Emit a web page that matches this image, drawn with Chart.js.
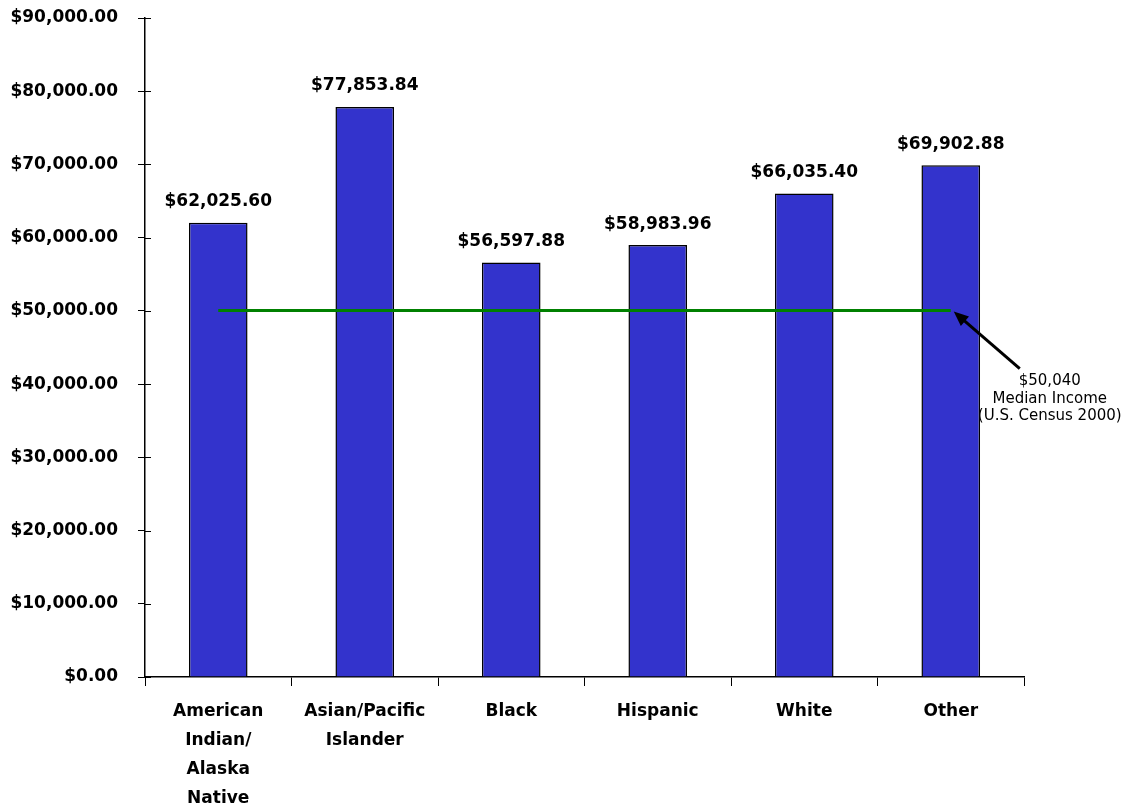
<!DOCTYPE html>
<html>
<head>
<meta charset="utf-8">
<script src="https://cdn.jsdelivr.net/npm/chart.js@4"></script>
<style>
  body { margin: 0; background: #fff; }
  #wrap { width: 1128px; height: 807px; }
</style>
</head>
<body>
<div id="wrap"><canvas id="chart" width="1128" height="807"></canvas></div>
<script>
// Average income by group, with census median reference line

const categories = [
  ['American', 'Indian/', 'Alaska', 'Native'],
  ['Asian/Pacific', 'Islander'],
  'Black',
  'Hispanic',
  'White',
  'Other'
];
const incomes = [62025.60, 77853.84, 56597.88, 58983.96, 66035.40, 69902.88];
const medianIncome = 50040;
const medianLine = [50040, 50040, 50040, 50040, 50040, 50040];
const noteLines = ['$50,040', 'Median Income', '(U.S. Census 2000)'];

const money = v => '$' + Number(v).toLocaleString('en-US', { minimumFractionDigits: 2, maximumFractionDigits: 2 });
const BOLD = 'bold 17px "DejaVu Sans"';

// value labels, inner tick marks, median note + arrow
const extras = {
  id: 'extras',
  afterDatasetsDraw(chart) {
    const ctx = chart.ctx;
    const xs = chart.scales.x, ys = chart.scales.y;
    ctx.save();

    // little tick stubs on the inside of the y axis
    ctx.strokeStyle = '#000';
    ctx.lineWidth = 1;
    ys.ticks.forEach((t, i) => {
      const py = Math.round(ys.getPixelForTick(i)) + 0.5;
      ctx.beginPath();
      ctx.moveTo(xs.left, py);
      ctx.lineTo(xs.left + 6, py);
      ctx.stroke();
    });

    // bar labels
    ctx.fillStyle = '#000';
    ctx.font = BOLD;
    ctx.textAlign = 'center';
    ctx.textBaseline = 'middle';
    chart.getDatasetMeta(0).data.forEach((bar, i) => {
      ctx.fillText(money(incomes[i]), bar.x, bar.y - 21);
    });

    // arrow pointing to end of median line
    const tipX = xs.getPixelForValue(categories.length - 1) + 3;
    const tipY = ys.getPixelForValue(medianIncome) + 1;
    const tailX = tipX + 66, tailY = tipY + 57;
    const ang = Math.atan2(tipY - tailY, tipX - tailX);
    ctx.strokeStyle = '#000';
    ctx.lineWidth = 3;
    ctx.beginPath();
    ctx.moveTo(tailX, tailY);
    ctx.lineTo(tipX + 10 * Math.cos(ang + Math.PI), tipY + 10 * Math.sin(ang + Math.PI));
    ctx.stroke();
    ctx.beginPath();
    ctx.moveTo(tipX, tipY);
    ctx.lineTo(tipX - 16 * Math.cos(ang - 0.4), tipY - 16 * Math.sin(ang - 0.4));
    ctx.lineTo(tipX - 16 * Math.cos(ang + 0.4), tipY - 16 * Math.sin(ang + 0.4));
    ctx.closePath();
    ctx.fill();

    // note text
    ctx.font = '15px "DejaVu Sans"';
    noteLines.forEach((s, i) => {
      ctx.fillText(s, tailX + 30, tailY + 13 + i * 17.5);
    });
    ctx.restore();
  }
};

new Chart(document.getElementById('chart'), {
  data: {
    labels: categories,
    datasets: [
      {
        type: 'bar',
        data: incomes,
        backgroundColor: '#3333cc',
        borderColor: '#000',
        borderWidth: 1.5,
        barPercentage: 0.4,
        categoryPercentage: 1,
        order: 2
      },
      {
        type: 'line',
        data: medianLine,
        borderColor: '#008000',
        borderWidth: 3,
        pointRadius: 0,
        fill: false,
        order: 1
      }
    ]
  },
  options: {
    responsive: false,
    animation: false,
    layout: { padding: { left: 0, right: 104, top: 18, bottom: 0 } },
    plugins: { legend: { display: false }, tooltip: { enabled: false }, title: { display: false } },
    scales: {
      x: {
        offset: true,
        grid: { display: true, drawOnChartArea: false, offset: true, color: '#000', tickLength: 9 },
        border: { display: true, color: '#000', width: 1.5 },
        ticks: { color: '#000', font: { family: 'DejaVu Sans', size: 17, weight: 'bold', lineHeight: 1.7 }, padding: 11, maxRotation: 0, autoSkip: false },
        afterFit: s => { s.height = 130; s.paddingLeft = 0; s.paddingRight = 0; }
      },
      y: {
        min: 0,
        max: 90000,
        grid: { display: true, drawOnChartArea: false, color: '#000', tickLength: 7 },
        border: { display: true, color: '#000', width: 1.5 },
        ticks: { stepSize: 10000, color: '#000', font: { family: 'DejaVu Sans', size: 17, weight: 'bold' }, padding: 20, callback: v => money(v) },
        afterFit: s => { s.width = 145; s.paddingTop = 0; s.paddingBottom = 0; }
      }
    }
  },
  plugins: [extras]
});
</script>
</body>
</html>
